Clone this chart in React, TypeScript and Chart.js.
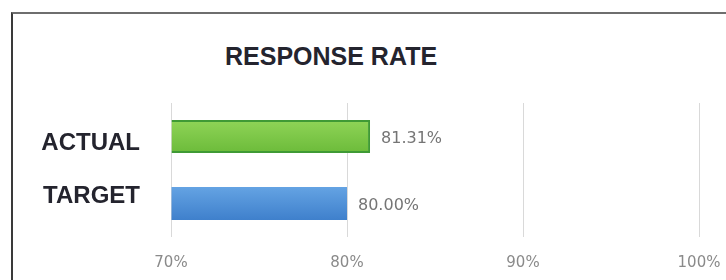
import React, { useEffect, useRef } from "react";
import { Chart, registerables } from "chart.js";

Chart.register(...registerables);

const categories = ["ACTUAL", "TARGET"];
const values = [81.31, 80.0];
const tickValues = [70, 80, 90, 100];
const titleText = "RESPONSE RATE";

const labelFont = "'Liberation Sans', Arial, sans-serif";
const smallFont = "'DejaVu Sans', Verdana, sans-serif";

export default function App() {
  const canvasRef = useRef<HTMLCanvasElement | null>(null);

  useEffect(() => {
    document.body.style.margin = "0";
    const canvas = canvasRef.current;
    if (!canvas) return;

    const gradFor = (ctx: any) => {
      const i = ctx.dataIndex;
      const flat = i === 0 ? "#7cc846" : "#4b8fd8";
      const chart = ctx.chart;
      const yScale = chart.scales && chart.scales.y;
      if (!chart.chartArea || !yScale) return flat;
      const y = yScale.getPixelForValue(i);
      const h = (chart.chartArea.bottom - chart.chartArea.top) / categories.length * 0.49;
      if (!isFinite(y) || !isFinite(h)) return flat;
      const g = chart.ctx.createLinearGradient(0, y - h / 2, 0, y + h / 2);
      if (i === 0) {
        g.addColorStop(0, "#8fd457");
        g.addColorStop(1, "#6cbb3a");
      } else {
        g.addColorStop(0, "#64a3e3");
        g.addColorStop(1, "#3f80cc");
      }
      return g;
    };

    const customLabels = {
      id: "customLabels",
      afterDatasetsDraw(chart: any) {
        const { ctx, chartArea } = chart;
        const yScale = chart.scales.y;
        const meta = chart.getDatasetMeta(0);
        const midY = (chartArea.top + chartArea.bottom) / 2;
        ctx.save();
        ctx.font = `bold 24px ${labelFont}`;
        ctx.fillStyle = "#24242e";
        ctx.textAlign = "right";
        ctx.textBaseline = "middle";
        categories.forEach((c, i) => {
          const y = yScale.getPixelForValue(i);
          const yy = y + (midY - y) * 0.22;
          ctx.fillText(c, chartArea.left - 31, yy);
        });
        ctx.font = `16px ${smallFont}`;
        ctx.fillStyle = "#757575";
        ctx.textAlign = "left";
        meta.data.forEach((el: any, i: number) => {
          ctx.fillText(values[i].toFixed(2) + "%", el.x + 11, el.y + 2);
        });
        ctx.restore();
      },
    };

    const chart = new Chart(canvas, {
      type: "bar",
      data: {
        labels: categories,
        datasets: [
          {
            data: values,
            base: 70,
            backgroundColor: gradFor,
            borderColor: (ctx: any) => (ctx.dataIndex === 0 ? "#3f9a35" : "#3b78c0"),
            borderWidth: (ctx: any) => (ctx.dataIndex === 0 ? 2 : 0),
            borderSkipped: "start",
            barPercentage: 0.49,
            categoryPercentage: 1,
          } as any,
        ],
      },
      options: {
        indexAxis: "y",
        responsive: false,
        animation: false,
        devicePixelRatio: 1,
        layout: { padding: { top: 103, right: 27, bottom: 0, left: 0 } },
        plugins: {
          legend: { display: false },
          title: { display: false },
          tooltip: { enabled: false },
        },
        scales: {
          x: {
            type: "linear",
            min: 70,
            max: 100,
            afterBuildTicks: (scale: any) => {
              scale.ticks = tickValues.map((v) => ({ value: v }));
            },
            afterFit: (scale: any) => {
              scale.height = 43;
              scale.paddingLeft = 0;
              scale.paddingRight = 0;
            },
            grid: { display: true, color: "#d9d9d9", lineWidth: 1, drawTicks: false },
            border: { display: false },
            ticks: {
              padding: 17,
              color: "#8a8a8a",
              font: { family: smallFont, size: 15 },
              maxRotation: 0,
              callback: (v: any) => v + "%",
            },
          },
          y: {
            type: "category",
            afterFit: (scale: any) => {
              scale.width = 171;
            },
            grid: { display: false },
            border: { display: false },
            ticks: { display: false },
          },
        },
      } as any,
      plugins: [customLabels],
    });

    return () => chart.destroy();
  }, []);

  return (
    <div style={{ position: "relative", width: 726, height: 280, overflow: "hidden", background: "#fff" }}>
      <div
        style={{
          position: "absolute",
          left: 11,
          top: 12,
          width: 740,
          height: 300,
          borderTop: "2px solid #6e6e6e",
          borderLeft: "2px solid #3a3a3a",
          boxSizing: "border-box",
        }}
      />
      <div
        style={{
          position: "absolute",
          left: 225,
          top: 44,
          font: `bold 25px ${labelFont}`,
          lineHeight: "25px",
          color: "#24242e",
          whiteSpace: "nowrap",
        }}
      >
        {titleText}
      </div>
      <canvas ref={canvasRef} width={726} height={280} style={{ position: "absolute", left: 0, top: 0 }} />
    </div>
  );
}
